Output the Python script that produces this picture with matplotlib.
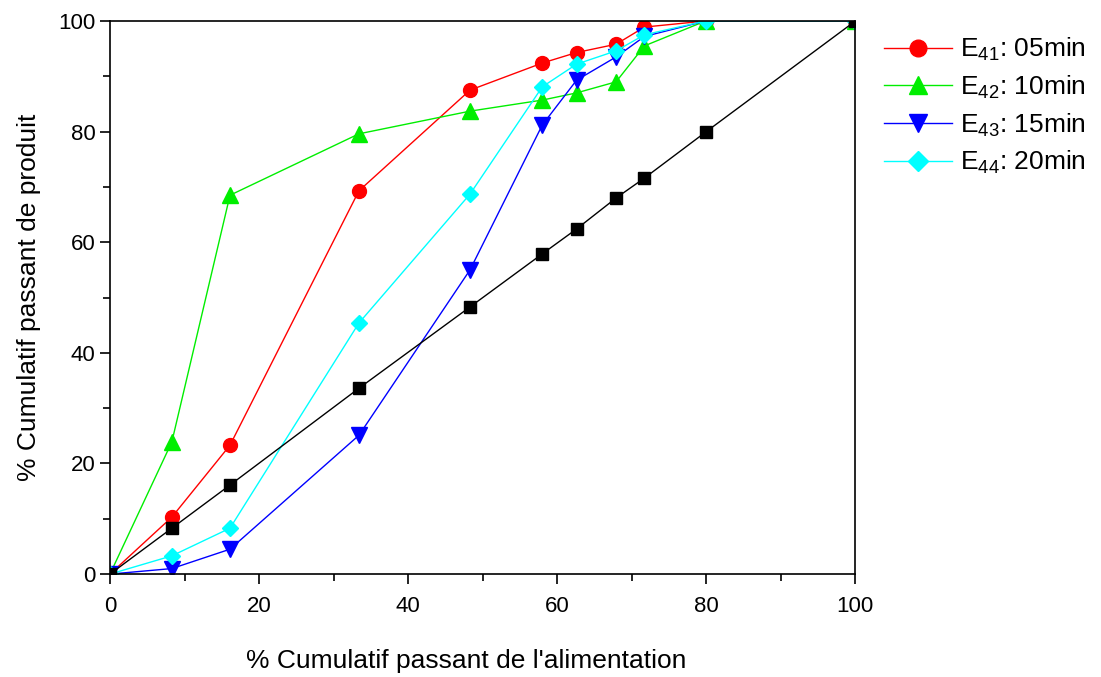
import matplotlib
matplotlib.use("Agg")
import matplotlib.pyplot as plt
from matplotlib.ticker import MultipleLocator

plt.rcParams['font.family'] = ['Liberation Sans', 'DejaVu Sans']
plt.rcParams['mathtext.fontset'] = 'custom'
plt.rcParams['mathtext.rm'] = 'Liberation Sans'
plt.rcParams['mathtext.it'] = 'Liberation Sans'

# cumulative passing of feed (x) and product (y)
x = [0, 8.3, 16.1, 33.4, 48.3, 58.0, 62.6, 67.9, 71.7, 79.9, 100]
ref = [0, 8.3, 16.1, 33.6, 48.3, 57.9, 62.4, 68.0, 71.6, 79.9, 100]
e41 = [0, 10.3, 23.3, 69.3, 87.5, 92.4, 94.3, 95.8, 98.9, 100, 100]
e42 = [0, 23.9, 68.5, 79.6, 83.7, 85.7, 87.0, 89.0, 95.5, 100, 100]
e43 = [0, 1.0, 4.5, 25.1, 55.0, 81.2, 89.3, 93.5, 97.2, 100, 100]
e44 = [0, 3.3, 8.3, 45.4, 68.7, 88.1, 92.2, 94.6, 97.5, 100, 100]

labels = [r'E$_{41}$: 05min', r'E$_{42}$: 10min', r'E$_{43}$: 15min', r'E$_{44}$: 20min']

fig = plt.figure(figsize=(11.01, 6.77), dpi=100)
ax = fig.add_axes([0.0999, 0.152, 0.677, 0.817])

ax.plot(x, e41, color='#ff0000', lw=1, marker='o', ms=10, label=labels[0])
ax.plot(x, e42, color='#00ee00', lw=1, marker='^', ms=11, label=labels[1])
ax.plot(x, e43, color='#0000ff', lw=1, marker='v', ms=11, label=labels[2])
ax.plot(x, e44, color='#00ffff', lw=1, marker='D', ms=8.5, label=labels[3])
ax.plot(x, ref, color='black', lw=1, marker='s', ms=8)

ax.set_xlim(0, 100)
ax.set_ylim(0, 100)
ax.xaxis.set_major_locator(MultipleLocator(20))
ax.xaxis.set_minor_locator(MultipleLocator(10))
ax.yaxis.set_major_locator(MultipleLocator(20))
ax.yaxis.set_minor_locator(MultipleLocator(10))
ax.tick_params(which='both', direction='out', top=False, right=False, labelsize=16, width=1.2)
ax.tick_params(which='major', length=7)
ax.tick_params(axis='x', which='major', pad=9)
ax.tick_params(which='minor', length=5)
for s in ax.spines.values():
    s.set_linewidth(1.2)

ax.set_xlabel("% Cumulatif passant de l'alimentation", fontsize=19)
ax.xaxis.set_label_coords(0.478, -0.135)
ax.set_ylabel("% Cumulatif passant de produit", fontsize=19, labelpad=12)

fig.legend(loc='upper left', bbox_to_anchor=(0.781, 0.982), frameon=False, fontsize=19,
           handlelength=2.6, handletextpad=0.3, labelspacing=0.4, markerscale=1.2)

fig.savefig('out.png', dpi=100)
